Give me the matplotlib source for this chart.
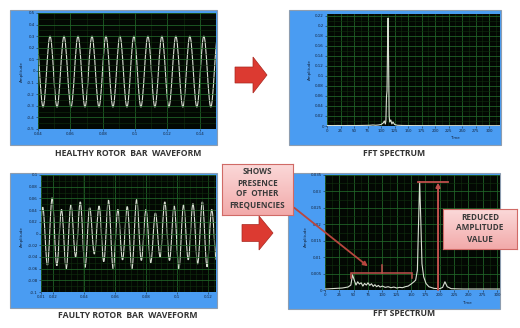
import numpy as np
import matplotlib
matplotlib.use('Agg')
import matplotlib.pyplot as plt
from matplotlib.path import Path
from matplotlib.patches import PathPatch, Rectangle, Polygon, FancyArrowPatch
from matplotlib.colors import LinearSegmentedColormap
from matplotlib.ticker import AutoMinorLocator

# healthy rotor waveform: extrema (peak, trough, ...)
healthy_t0 = 0.0388
healthy_step = 0.00432
healthy_ext = [0.30, -0.31, 0.30, -0.31, 0.30, -0.31, 0.30, -0.31, 0.30,
               -0.31, 0.30, -0.31, 0.30, -0.31, 0.30, -0.31, 0.30, -0.31,
               0.30, -0.31, 0.30, -0.31, 0.30, -0.31, 0.30, -0.31, 0.30]

# faulty rotor waveform: extrema
faulty_t0 = 0.0104
faulty_step = 0.003023
faulty_ext = [-0.050, 0.045, -0.054, 0.061, -0.055, 0.041, -0.060, 0.049,
              -0.040, 0.054, -0.058, 0.044, -0.035, 0.047, -0.048, 0.057,
              -0.060, 0.041, -0.045, 0.046, -0.060, 0.058, -0.046, 0.041,
              -0.050, 0.035, -0.040, 0.054, -0.046, 0.047, -0.060, 0.049,
              -0.045, 0.051, -0.052, 0.054, -0.057, 0.041, -0.045]

# healthy FFT spectrum
fft_h_freq = [0, 10, 20, 30, 40, 50, 60, 70, 80, 85, 90, 95, 100, 104, 106,
              108, 109, 110, 111, 112, 113, 114, 115, 116, 118, 120, 122, 125,
              130, 140, 160, 190, 220, 250, 280, 322]
fft_h_amp = [0.001, 0.0008, 0.001, 0.0008, 0.001, 0.0009, 0.001, 0.0012,
             0.0015, 0.002, 0.0015, 0.002, 0.003, 0.006, 0.010, 0.004, 0.012,
             0.058, 0.070, 0.160, 0.215, 0.120, 0.020, 0.008, 0.012, 0.004,
             0.008, 0.003, 0.0015, 0.001, 0.0008, 0.0008, 0.0007, 0.0007,
             0.0006, 0.0006]

# faulty FFT spectrum
fft_f_freq = [0, 10, 20, 30, 40, 45, 48, 51, 54, 57, 60, 63, 66, 69, 72, 75,
              78, 81, 84, 87, 90, 93, 96, 100, 105, 110, 115, 120, 125, 130,
              135, 140, 145, 150, 155, 158, 161, 163, 165, 167, 169, 172, 176,
              181, 190, 200, 205, 209, 213, 220, 240, 270, 305]
fft_f_amp = [0.0003, 0.0004, 0.0005, 0.0006, 0.0009, 0.0015, 0.0046, 0.003,
             0.0015, 0.0025, 0.0018, 0.0022, 0.0012, 0.002, 0.0015, 0.0022,
             0.0014, 0.0019, 0.0011, 0.0016, 0.001, 0.0014, 0.0009, 0.0012,
             0.0008, 0.001, 0.0007, 0.0009, 0.0006, 0.0008, 0.0007, 0.001,
             0.0012, 0.0018, 0.0025, 0.003, 0.006, 0.020, 0.033, 0.021, 0.008,
             0.004, 0.002, 0.001, 0.0005, 0.0004, 0.0008, 0.0025, 0.001,
             0.0004, 0.0003, 0.0003, 0.0003]

tl_xticks = [0.04, 0.06, 0.08, 0.1, 0.12, 0.14]
tl_xlabels = ['0.04', '0.06', '0.08', '0.1', '0.12', '0.14']
tl_yticks = [-0.5, -0.4, -0.3, -0.2, -0.1, 0, 0.1, 0.2, 0.3, 0.4, 0.5]
tl_ylabels = ['-0.5', '-0.4', '-0.3', '-0.2', '-0.1', '0', '0.1', '0.2', '0.3', '0.4', '0.5']

bl_xticks = [0.0123, 0.02, 0.04, 0.06, 0.08, 0.1, 0.12]
bl_xlabels = ['0.01', '0.02', '0.04', '0.06', '0.08', '0.1', '0.12']
bl_yticks = [-0.1, -0.08, -0.06, -0.04, -0.02, 0, 0.02, 0.04, 0.06, 0.08, 0.1]
bl_ylabels = ['-0.1', '-0.08', '-0.06', '-0.04', '-0.02', '0', '0.02', '0.04', '0.06', '0.08', '0.1']

fft_xticks = [0, 25, 50, 75, 100, 125, 150, 175, 200, 225, 250, 275, 300]
fft_xlabels = ['0', '25', '50', '75', '100', '125', '150', '175', '200', '225', '250', '275', '300']
tr_yticks = [0, 0.02, 0.04, 0.06, 0.08, 0.1, 0.12, 0.14, 0.16, 0.18, 0.2, 0.22]
tr_ylabels = ['0', '0.02', '0.04', '0.06', '0.08', '0.1', '0.12', '0.14', '0.16', '0.18', '0.2', '0.22']
br_yticks = [0, 0.005, 0.01, 0.015, 0.02, 0.025, 0.03, 0.035]
br_ylabels = ['0', '0.005', '0.01', '0.015', '0.02', '0.025', '0.03', '0.035']

W, H = 520, 328
BLUE = '#4a9cf2'
TRACE = '#d8dfd2'
RED = '#c0504d'

fig = plt.figure(figsize=(5.2, 3.28), dpi=100)
fig.patch.set_facecolor('white')


def frect(x0, y0, x1, y1):
    return [x0 / W, 1 - y1 / H, (x1 - x0) / W, (y1 - y0) / H]


def pt(x, y):
    return (x / W, 1 - y / H)


def wave_path(t0, step, vals):
    # cubic bezier between extrema, flat tangent at each extremum
    k = 0.3634 * step
    verts = [(t0, vals[0])]
    codes = [Path.MOVETO]
    for i in range(1, len(vals)):
        ta = t0 + (i - 1) * step
        tb = t0 + i * step
        verts += [(ta + k, vals[i - 1]), (tb - k, vals[i]), (tb, vals[i])]
        codes += [Path.CURVE4] * 3
    return Path(verts, codes)


def panel(blue, black, xlim, ylim, xt, xl, yt, yl):
    x0, y0, x1, y1 = blue
    fig.add_artist(Rectangle(pt(x0, y1), (x1 - x0) / W, (y1 - y0) / H,
                             transform=fig.transFigure, facecolor=BLUE,
                             edgecolor='#8d9db0', lw=0.8, zorder=0))
    ax = fig.add_axes(frect(*black))
    ax.set_facecolor('#030803')
    ax.set_xlim(*xlim)
    ax.set_ylim(*ylim)
    ax.set_xticks(xt)
    ax.set_xticklabels(xl)
    ax.set_yticks(yt)
    ax.set_yticklabels(yl)
    ax.xaxis.set_minor_locator(AutoMinorLocator(2))
    ax.yaxis.set_minor_locator(AutoMinorLocator(2))
    ax.grid(True, which='major', color='#22682a', lw=0.55)
    ax.grid(True, which='minor', color='#10300f', lw=0.4)
    ax.tick_params(which='both', labelsize=2.9, colors='#14243c', length=1.2,
                   width=0.4, pad=1)
    ax.tick_params(which='minor', length=0)
    for s in ax.spines.values():
        s.set_visible(False)
    return ax


# healthy waveform
ax1 = panel((10, 10, 217, 145), (38, 13, 216, 129), (0.04, 0.15), (-0.5, 0.5),
            tl_xticks, tl_xlabels, tl_yticks, tl_ylabels)
ax1.add_patch(PathPatch(wave_path(healthy_t0, healthy_step, healthy_ext),
                        fill=False, edgecolor=TRACE, lw=0.8))

# healthy spectrum
ax2 = panel((289, 10, 501, 145), (327, 14, 500, 126), (0, 320), (0, 0.223),
            fft_xticks, fft_xlabels, tr_yticks, tr_ylabels)
ax2.plot(fft_h_freq, fft_h_amp, color=TRACE, lw=0.8)

# faulty waveform
ax3 = panel((10, 173, 217, 308), (41, 175, 216, 292), (0.0123, 0.125), (-0.1, 0.1),
            bl_xticks, bl_xlabels, bl_yticks, bl_ylabels)
ax3.add_patch(PathPatch(wave_path(faulty_t0, faulty_step, faulty_ext),
                        fill=False, edgecolor=TRACE, lw=0.8))

# faulty spectrum
ax4 = panel((288, 173, 500, 309), (325, 175, 500, 290), (0, 305), (0, 0.035),
            fft_xticks, fft_xlabels, br_yticks, br_ylabels)
ax4.plot(fft_f_freq, fft_f_amp, color=TRACE, lw=0.8)

# bracket over the extra frequencies
ax4.plot([45, 45, 152, 152], [0.0037, 0.0053, 0.0053, 0.0037], color=RED, lw=1.1,
         solid_joinstyle='miter')
ax4.plot([99, 99], [0.0053, 0.0076], color=RED, lw=1.1)
# reduced amplitude marker
ax4.plot([162, 214], [0.0329, 0.0329], color=RED, lw=1.3)
ax4.annotate('', xy=(197, 0.0327), xytext=(197, 0),
             arrowprops=dict(arrowstyle='-|>', color=RED, lw=1.4,
                             mutation_scale=6, shrinkA=0, shrinkB=0))

for x, y in [(22, 72), (310, 70), (22, 237), (306, 237)]:
    fig.text(*pt(x, y), 'Amplitude', rotation=90, fontsize=2.9, color='#14243c',
             ha='center', va='center')
for x, y in [(455, 138), (467, 303)]:
    fig.text(*pt(x, y), 'Time', fontsize=2.9, color='#14243c',
             ha='center', va='center')

cap = dict(fontsize=6.2, fontweight='bold', color='#333333', ha='center',
           va='center', family='Open Sans')
fig.text(*pt(128, 153), 'HEALTHY ROTOR  BAR  WAVEFORM', **cap)
fig.text(*pt(394, 153), 'FFT SPECTRUM', **cap)
fig.text(*pt(128, 316), 'FAULTY ROTOR  BAR  WAVEFORM', **cap)
fig.text(*pt(404, 313), 'FFT SPECTRUM', **cap)


def block_arrow(x0, x1, x2, yc, hb, hh):
    pts = [pt(x0, yc - hb), pt(x1, yc - hb), pt(x1, yc - hh), pt(x2, yc),
           pt(x1, yc + hh), pt(x1, yc + hb), pt(x0, yc + hb)]
    fig.add_artist(Polygon(pts, closed=True, transform=fig.transFigure,
                           facecolor='#dc3a31', edgecolor='#a8271f', lw=0.5,
                           zorder=4))


block_arrow(235, 253, 267, 75, 8, 18)
block_arrow(242, 259, 273, 233, 8.5, 17)

pink = LinearSegmentedColormap.from_list('pink', ['#fbd9d9', '#f2aaaa'])


def callout(box, lines, ys):
    bx = fig.add_axes(frect(*box))
    bx.imshow(np.linspace(0, 1, 50).reshape(-1, 1), cmap=pink, aspect='auto',
              extent=(0, 1, 1, 0))
    bx.set_xticks([])
    bx.set_yticks([])
    for s in bx.spines.values():
        s.set_color('#d06a66')
        s.set_linewidth(0.8)
    bx.set_zorder(6)
    xc = (box[0] + box[2]) / 2
    for txt, y in zip(lines, ys):
        fig.text(*pt(xc, y), txt, fontsize=5.9, fontweight='bold', color='#3a3a3a',
                 ha='center', va='center', family='Open Sans', zorder=7)


callout((222, 164, 293, 215), ['SHOWS', 'PRESENCE', 'OF  OTHER', 'FREQUENCIES'],
        [172, 183, 194, 205])
callout((443, 209, 517, 249), ['REDUCED', 'AMPLITUDE', 'VALUE'], [217, 228, 240])

fig.add_artist(FancyArrowPatch(pt(292, 206), pt(370, 268), transform=fig.transFigure,
                               arrowstyle='-|>', mutation_scale=6, color='#b8463e',
                               lw=1.3, zorder=5))

fig.savefig('out.png', dpi=100)
